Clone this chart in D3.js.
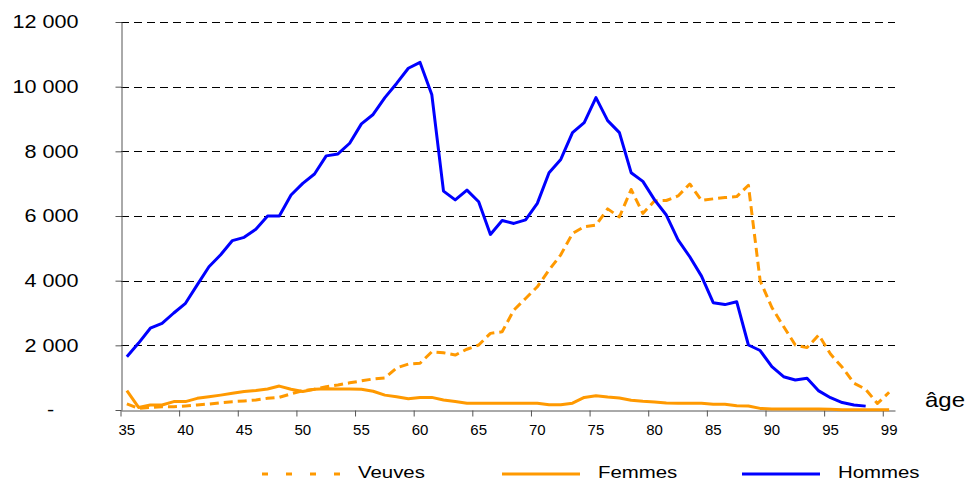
<!DOCTYPE html>
<html>
<head>
<meta charset="utf-8">
<script src="https://cdn.jsdelivr.net/npm/d3@7/dist/d3.min.js"></script>
<style>
  body { margin: 0; background: #fff; }
  svg text { font-family: "Liberation Sans", Arial, sans-serif; fill: #000; }
</style>
</head>
<body>
<div id="chart"></div>
<script>
// categories : âge (the last one is labelled "99" on the axis)
var ages = [35, 36, 37, 38, 39, 40, 41, 42, 43, 44, 45, 46, 47, 48, 49, 50, 51, 52, 53, 54,
  55, 56, 57, 58, 59, 60, 61, 62, 63, 64, 65, 66, 67, 68, 69, 70, 71, 72, 73, 74,
  75, 76, 77, 78, 79, 80, 81, 82, 83, 84, 85, 86, 87, 88, 89, 90, 91, 92, 93, 94,
  95, 96, 97, 98, 99, 100];

var hommes = [1650, 2070, 2530, 2680, 3000, 3300, 3870, 4430, 4800, 5240,
  5340, 5590, 6000, 6000, 6650, 7010, 7300, 7860, 7920, 8250,
  8850, 9140, 9660, 10100, 10570, 10750, 9760, 6770, 6500, 6800,
  6440, 5430, 5860, 5770, 5880, 6390, 7340, 7750, 8580, 8890,
  9660, 8950, 8580, 7340, 7070, 6500, 6030, 5260, 4740, 4140,
  3320, 3260, 3350, 2010, 1840, 1340, 1030, 930, 980, 590,
  380, 230, 155, 120, null, null];

var femmes = [600, 80, 155, 155, 260, 260, 360, 410, 460, 515,
  570, 600, 650, 740, 640, 570, 640, 660, 650, 650,
  640, 580, 460, 410, 350, 390, 390, 310, 260, 210,
  210, 210, 210, 210, 210, 210, 160, 160, 210, 390,
  440, 400, 370, 300, 270, 250, 220, 210, 210, 210,
  180, 175, 130, 125, 50, 30, 30, 30, 30, 30,
  25, 10, 5, 5, 5, 5];

var veuves = [190, 50, 80, 100, 100, 125, 155, 185, 225, 258,
  280, 310, 360, 392, 500, 598, 640, 720, 773, 840,
  900, 960, 990, 1300, 1420, 1445, 1800, 1770, 1700, 1880,
  2010, 2370, 2420, 3090, 3450, 3810, 4330, 4800, 5460, 5670,
  5720, 6220, 5970, 6820, 6080, 6470, 6480, 6620, 6990, 6480,
  6530, 6570, 6600, 6950, 4000, 3170, 2580, 2010, 1930, 2320,
  1730, 1320, 830, 640, 200, 550];

var yTicks = [0, 2000, 4000, 6000, 8000, 10000, 12000];
var xTickAges = [35, 40, 45, 50, 55, 60, 65, 70, 75, 80, 85, 90, 95, 100];
var xTickNames = ['35', '40', '45', '50', '55', '60', '65', '70', '75', '80', '85', '90', '95', '99'];

var width = 969;
var height = 482;
var plot = { left: 121, right: 895, top: 22, bottom: 410 };
var stretch = 1.2; // text in the original is drawn a bit wider than normal

var svg = d3.select('#chart').append('svg')
  .attr('width', width)
  .attr('height', height);

var x = d3.scaleBand()
  .domain(ages)
  .range([plot.left, plot.right])
  .padding(0);
var bw = x.bandwidth();

var y = d3.scaleLinear()
  .domain([0, 12000])
  .range([plot.bottom, plot.top]);

// dashed grid lines
svg.append('g')
  .selectAll('line')
  .data(yTicks.filter(function(d) { return d > 0; }))
  .enter().append('line')
  .attr('x1', plot.left)
  .attr('x2', plot.right)
  .attr('y1', function(d) { return Math.round(y(d)) + 0.5; })
  .attr('y2', function(d) { return Math.round(y(d)) + 0.5; })
  .attr('stroke', '#000')
  .attr('stroke-width', 1)
  .attr('stroke-dasharray', '8,5');

// y axis
var fmt = function(d) {
  return d === 0 ? '-' : d3.format(',')(d).replace(',', ' ');
};
var yAxis = d3.axisLeft(y)
  .tickValues(yTicks)
  .tickFormat(fmt)
  .tickSizeInner(6)
  .tickSizeOuter(0);

var gy = svg.append('g')
  .attr('transform', 'translate(' + (plot.left + 0.5) + ',0)')
  .call(yAxis);
gy.select('.domain').attr('stroke', '#555');
gy.selectAll('.tick line').attr('stroke', '#555');
gy.selectAll('.tick text')
  .attr('font-size', 18)
  .style('font-family', '"Liberation Sans", Arial, sans-serif')
  .attr('fill', '#000')
  .attr('x', (78 - plot.left) / stretch)
  .attr('transform', 'scale(' + stretch + ',1)');
gy.selectAll('.tick text')
  .filter(function(d) { return d === 0; })
  .attr('text-anchor', 'middle')
  .attr('x', (50 - plot.left) / stretch);

// x axis (ticks between categories)
var xAxis = d3.axisBottom(x)
  .tickValues(xTickAges)
  .tickFormat(function(d, i) { return xTickNames[i]; })
  .tickSizeInner(6)
  .tickSizeOuter(0)
  .tickPadding(8);

var gx = svg.append('g')
  .attr('transform', 'translate(0,' + (plot.bottom + 0.5) + ')')
  .call(xAxis);
gx.select('.domain').attr('stroke', '#555');
gx.selectAll('.tick line')
  .attr('stroke', '#555')
  .attr('x1', -bw / 2)
  .attr('x2', -bw / 2);
gx.selectAll('.tick text')
  .attr('font-size', 15)
  .style('font-family', '"Liberation Sans", Arial, sans-serif')
  .attr('fill', '#000');

// series
var line = d3.line()
  .defined(function(d) { return d != null; })
  .x(function(d, i) { return x(ages[i]) + bw / 2; })
  .y(function(d) { return y(d); });

var series = [
  { name: 'Veuves', values: veuves, color: '#FF9900', dash: '9,5' },
  { name: 'Femmes', values: femmes, color: '#FF9900', dash: null },
  { name: 'Hommes', values: hommes, color: '#0000FF', dash: null }
];

svg.append('g')
  .selectAll('path')
  .data(series)
  .enter().append('path')
  .attr('d', function(s) { return line(s.values); })
  .attr('fill', 'none')
  .attr('stroke', function(s) { return s.color; })
  .attr('stroke-width', 3)
  .attr('stroke-linejoin', 'round')
  .attr('stroke-dasharray', function(s) { return s.dash; });

// axis title
svg.append('text')
  .attr('transform', 'translate(925,407) scale(' + stretch + ',1)')
  .attr('font-size', 20)
  .text('âge');

// legend
var legend = svg.append('g')
  .selectAll('g')
  .data(series)
  .enter().append('g')
  .attr('transform', function(s, i) { return 'translate(' + (262 + i * 240) + ',474)'; });

legend.append('line')
  .attr('x1', 0)
  .attr('x2', 78)
  .attr('stroke', function(s) { return s.color; })
  .attr('stroke-width', 3)
  .attr('stroke-dasharray', function(s) { return s.dash ? '6,18' : null; });

// baseline kept a little higher so the text box stays inside the picture
legend.append('text')
  .attr('transform', 'translate(96,4) scale(' + stretch + ',1)')
  .attr('font-size', 17)
  .text(function(s) { return s.name; });
</script>
</body>
</html>
